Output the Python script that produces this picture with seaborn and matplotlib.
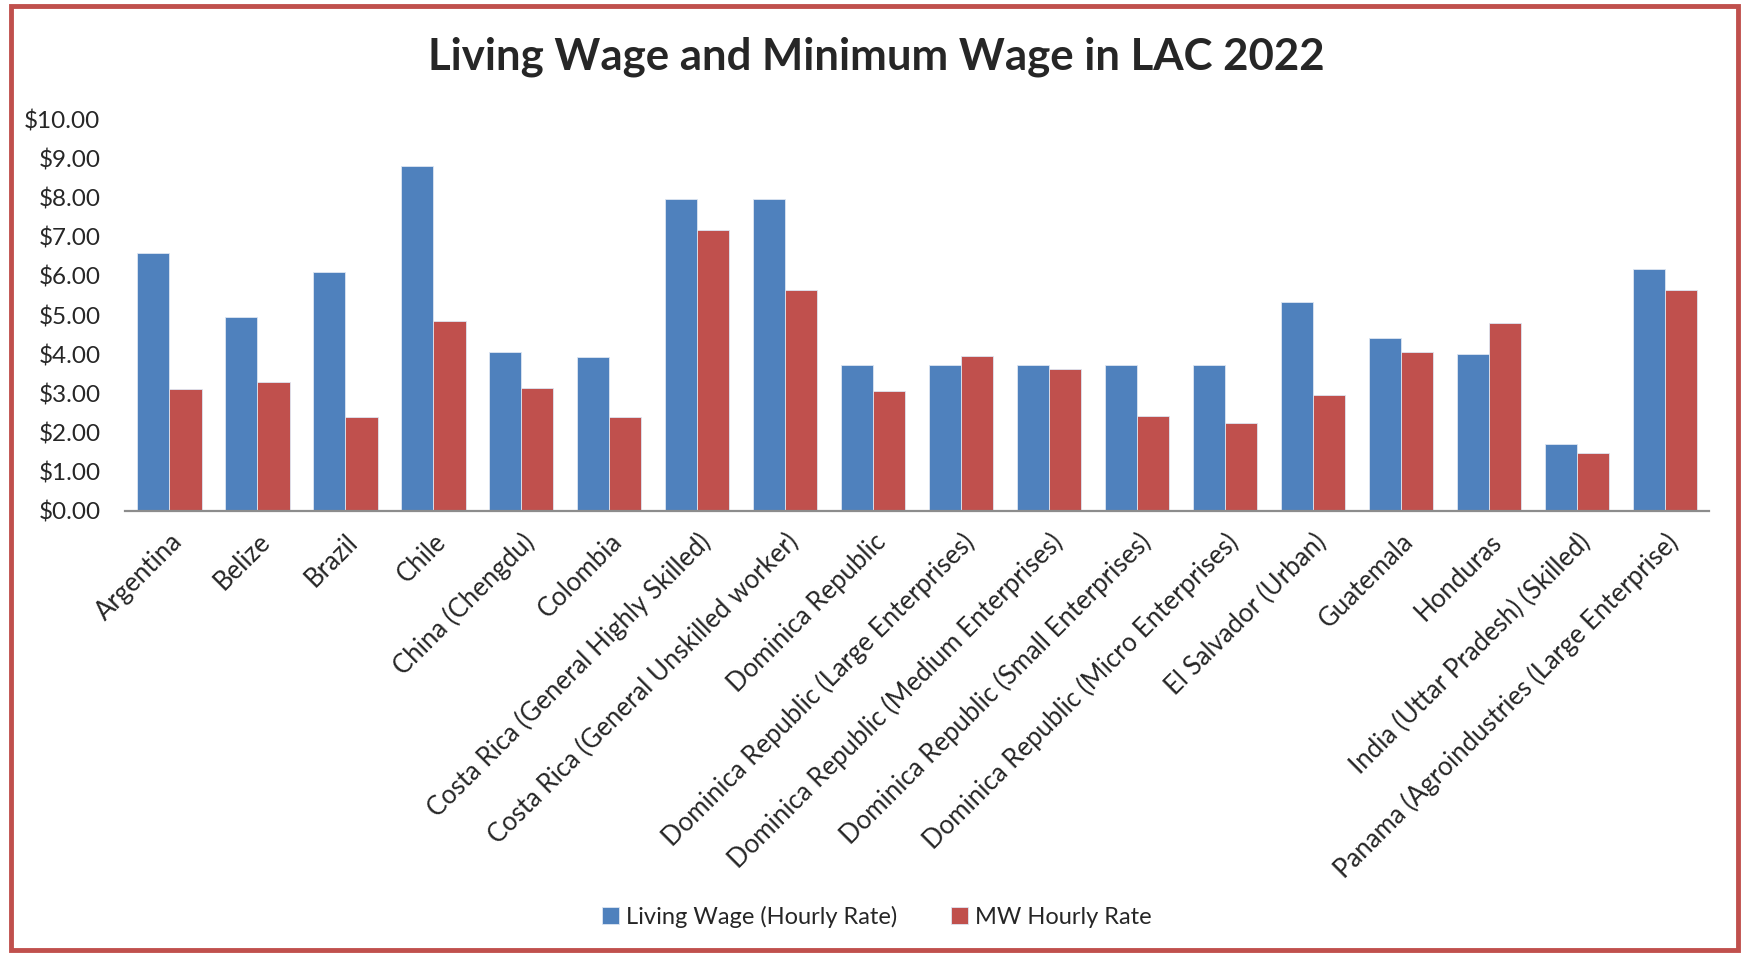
import matplotlib
matplotlib.use("Agg")
import matplotlib.pyplot as plt
import seaborn as sns
import pandas as pd
from matplotlib.ticker import FuncFormatter
from matplotlib.patches import Rectangle

categories = [
    "Argentina", "Belize", "Brazil", "Chile", "China (Chengdu)", "Colombia",
    "Costa Rica (General Highly Skilled)", "Costa Rica (General Unskilled worker)",
    "Dominica Republic", "Dominica Republic (Large Enterprises)",
    "Dominica Republic (Medium Enterprises)", "Dominica Republic (Small Enterprises)",
    "Dominica Republic (Micro Enterprises)", "El Salvador (Urban)", "Guatemala",
    "Honduras", "India (Uttar Pradesh) (Skilled)", "Panama (Agroindustries (Large Enterprise)",
]
living_wage = [6.58, 4.95, 6.11, 8.80, 4.07, 3.92, 7.97, 7.97, 3.73, 3.73,
               3.73, 3.73, 3.73, 5.34, 4.42, 4.00, 1.72, 6.18]
mw_hourly = [3.12, 3.30, 2.39, 4.85, 3.13, 2.40, 7.18, 5.65, 3.07, 3.96,
             3.63, 2.43, 2.24, 2.97, 4.05, 4.79, 1.49, 5.63]
series_names = ["Living Wage (Hourly Rate)", "MW Hourly Rate"]
yticks = [0, 1, 2, 3, 4, 5, 6, 7, 8, 9, 10]

df = pd.DataFrame({
    "Category": categories * 2,
    "Value": living_wage + mw_hourly,
    "Series": [series_names[0]] * len(categories) + [series_names[1]] * len(categories),
})

sns.set_style("white")
plt.rcParams["font.family"] = ["Lato", "DejaVu Sans"]

fig = plt.figure(figsize=(17.43, 9.55), dpi=100)
ax = fig.add_axes([0.072, 0.465, 0.9085, 0.41])

sns.barplot(data=df, x="Category", y="Value", hue="Series", order=categories,
            hue_order=series_names, palette=["#4F81BD", "#C0504D"], saturation=1,
            width=0.73, ax=ax, edgecolor="#DDE6F2", linewidth=0.6, legend=True)

ax.set_ylim(0, 10)
ax.set_yticks(yticks)
ax.yaxis.set_major_formatter(FuncFormatter(lambda v, p: f"${v:.2f}"))
ax.set_xlabel("")
ax.set_ylabel("")
for s in ["top", "right", "left"]:
    ax.spines[s].set_visible(False)
ax.spines["bottom"].set_color("#8C8C8C")
ax.spines["bottom"].set_linewidth(1.6)
ax.tick_params(axis="y", labelsize=17.5, length=0, pad=18)
ax.tick_params(axis="x", labelsize=18.5, length=0, pad=13)
plt.setp(ax.get_xticklabels(), rotation=45, ha="right", rotation_mode="anchor")

handles, labels = ax.get_legend_handles_labels()
ax.get_legend().remove()
fig.legend(handles, labels, loc="center", bbox_to_anchor=(0.503, 0.04), ncol=2,
           frameon=False, fontsize=17, handlelength=0.7, handleheight=0.7,
           handletextpad=0.3, columnspacing=2.3)

fig.text(0.503, 0.941, "Living Wage and Minimum Wage in LAC 2022", ha="center",
         va="center", fontsize=31.5, fontweight="bold")

fig.patches.append(Rectangle((0.0063, 0.005), 0.9907, 0.9887, transform=fig.transFigure,
                             fill=False, edgecolor="#C0504D", linewidth=3.5))

fig.savefig("out.png", dpi=100)
